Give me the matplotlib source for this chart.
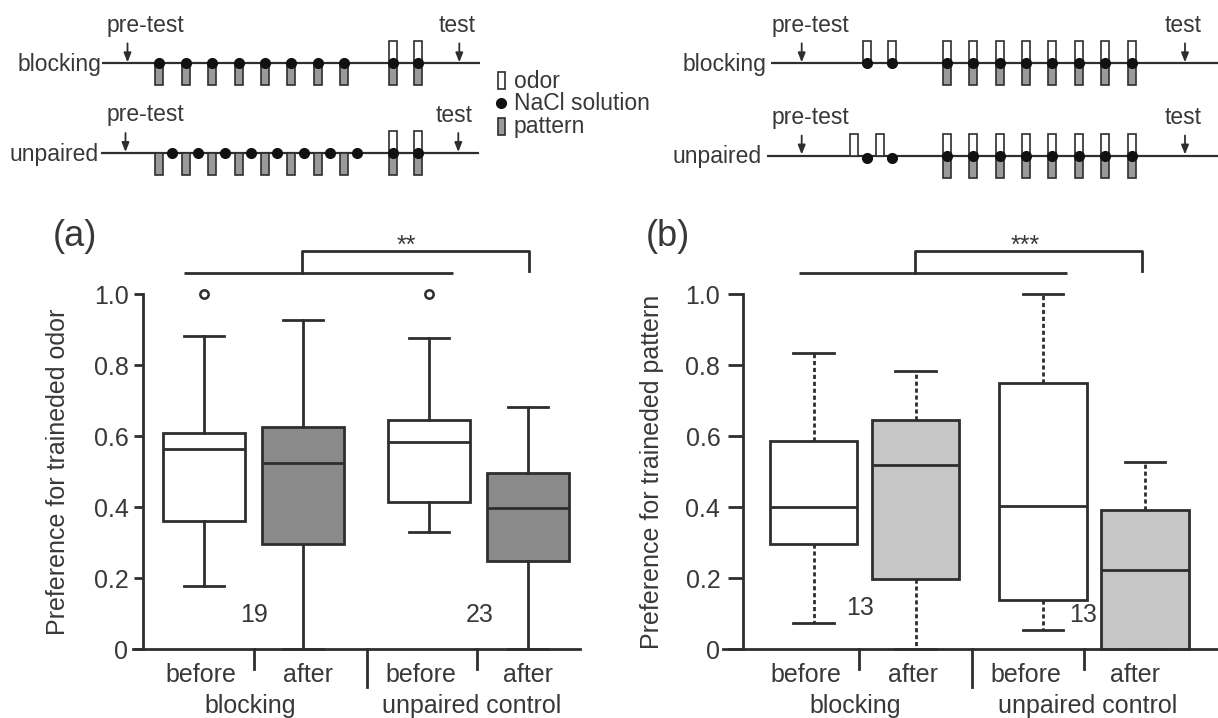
import matplotlib.pyplot as plt
import matplotlib.patches as mpatches

plt.rcParams['font.family'] = ['Liberation Sans', 'DejaVu Sans']

W, H = 1218, 718
TXT = '#383838'
LN = '#2e2e2e'

# box plot values
phases = ['before', 'after', 'before', 'after']
groups = ['blocking', 'unpaired control']
yticks = [0, 0.2, 0.4, 0.6, 0.8, 1.0]
ytick_labels = ['0', '0.2', '0.4', '0.6', '0.8', '1.0']

odor_lo = [0.178, 0.0, 0.331, 0.0]
odor_q1 = [0.361, 0.298, 0.415, 0.250]
odor_med = [0.563, 0.524, 0.583, 0.399]
odor_q3 = [0.608, 0.625, 0.646, 0.496]
odor_hi = [0.883, 0.929, 0.878, 0.683]
odor_fliers = [[1.0], [], [1.0], []]
odor_n = [19, 23]

pat_lo = [0.073, 0.0, 0.054, 0.0]
pat_q1 = [0.297, 0.197, 0.139, 0.0]
pat_med = [0.400, 0.518, 0.404, 0.223]
pat_q3 = [0.588, 0.647, 0.751, 0.392]
pat_hi = [0.835, 0.783, 1.000, 0.529]
pat_fliers = [[], [], [], []]
pat_n = [13, 13]

fig = plt.figure(figsize=(W / 100, H / 100), dpi=100)

# ---------------- protocol schematics (pixel coordinates) ----------------
sch = fig.add_axes([0, 0, 1, 1], zorder=0)
sch.set_xlim(0, W)
sch.set_ylim(H, 0)
sch.axis('off')

SW, SH = 8, 22      # stimulus box size
FS_S = 16.5


def odor(x, y):
    sch.add_patch(mpatches.Rectangle((x - SW / 2, y - SH), SW, SH, fc='white',
                                     ec=LN, lw=1.2, zorder=3))


def pattern(x, y):
    sch.add_patch(mpatches.Rectangle((x - SW / 2, y), SW, SH, fc='#9a9a9a',
                                     ec=LN, lw=1.2, zorder=3))


def nacl(x, y):
    sch.plot([x], [y], 'o', color='#111111', ms=7, zorder=4)


def arrow(x, y):
    sch.annotate('', xy=(x, y - 1), xytext=(x, y - 20),
                 arrowprops=dict(arrowstyle='-|>,head_width=0.22,head_length=0.55',
                                 color=LN, lw=1.3, shrinkA=0, shrinkB=0))


def row(label, lab_x, y, x0, x1, pre_x, test_x, text_x):
    sch.plot([x0, x1], [y, y], color=LN, lw=1.6, zorder=2, solid_capstyle='butt')
    sch.text(lab_x, y + 7.5, label, ha='right', va='baseline', fontsize=FS_S, color=TXT)
    sch.text(text_x[0], y - 31.5, 'pre-test', ha='left', va='baseline', fontsize=FS_S, color=TXT)
    sch.text(text_x[1], y - 31.5, 'test', ha='left', va='baseline', fontsize=FS_S, color=TXT)
    arrow(pre_x, y)
    arrow(test_x, y)


n_train = 8
step = 26.4

# left: pattern conditioning, then odor+pattern compound
row('blocking', 101, 63.3, 102, 480, 127.5, 459.3, (107, 439))
row('unpaired', 99, 153, 101, 479, 125.5, 458.3, (107, 436))
for i in range(n_train):
    x = 159.3 + i * step
    pattern(x, 63.3)
    nacl(x, 63.3)
    pattern(x, 153)
    nacl(x + 12.5, 153)
for x in (393.3, 418.3):
    for y in (63.3, 153):
        odor(x, y)
        pattern(x, y)
        nacl(x, y)

# legend
sch.add_patch(mpatches.Rectangle((497.5, 71.5), 7, 17, fc='white', ec=LN, lw=1.2))
sch.plot([501], [103], 'o', color='#111111', ms=7)
sch.add_patch(mpatches.Rectangle((497.5, 118), 7, 17, fc='#9a9a9a', ec=LN, lw=1.2))
for yy, t in zip((88.3, 110, 133), ('odor', 'NaCl solution', 'pattern')):
    sch.text(514, yy, t, ha='left', va='baseline', fontsize=FS_S, color=TXT)

# right: odor conditioning, then odor+pattern compound
row('blocking', 766, 63.3, 771, W + 2, 801.7, 1185, (771.7, 1165))
row('unpaired', 762, 155.5, 767, W + 2, 801.7, 1185, (771.7, 1165))
for x in (866.7, 892.3):
    odor(x, 63.3)
    nacl(x, 63.3)
    odor(x - 12.8, 155.5)
    nacl(x, 157.5)
for i in range(n_train):
    x = 946.7 + i * step
    for y in (63.3, 155.5):
        odor(x, y)
        pattern(x, y)
        nacl(x, y)


# ---------------- box plots ----------------
FS = 18


def panel(rect, unit, x_first, pos, width, lo, q1, med, q3, hi, fliers, fill, wls,
          yax_x, ticklen, tickpad, seps_small, sep_long, n_x, n_y, n_vals,
          tick_x, group_x, base, bracket, stars_x, stars, letter_x, ylabel, ylabel_x):
    ax = fig.add_axes([rect[0] / W, (H - rect[3]) / H, (rect[1] - rect[0]) / W,
                       (rect[3] - rect[2]) / H], zorder=2)
    ax.set_facecolor('none')
    ax.set_xlim((rect[0] - x_first) / unit + 1, (rect[1] - x_first) / unit + 1)
    ax.set_ylim(0, 1)

    stats = []
    for i in range(4):
        stats.append(dict(whislo=lo[i], q1=q1[i], med=med[i], q3=q3[i],
                          whishi=hi[i], fliers=fliers[i]))
    art = ax.bxp(stats, positions=pos, widths=width, capwidths=0.4,
                 patch_artist=True, showfliers=True,
                 boxprops=dict(lw=2, edgecolor=LN),
                 whiskerprops=dict(lw=2, color=LN, linestyle=wls),
                 capprops=dict(lw=2, color=LN),
                 medianprops=dict(lw=2, color=LN),
                 flierprops=dict(marker='o', mfc='white', mec=LN, ms=6, mew=1.8))
    for i, b in enumerate(art['boxes']):
        b.set_facecolor('white' if i % 2 == 0 else fill)
    for k in art:
        for a in art[k]:
            a.set_clip_on(False)

    for s in ('top', 'right'):
        ax.spines[s].set_visible(False)
    ax.spines['left'].set_position(('data', yax_x))
    ax.spines['left'].set_bounds(0, 1)
    for s in ('left', 'bottom'):
        ax.spines[s].set_linewidth(2)
        ax.spines[s].set_color(LN)
        ax.spines[s].set_zorder(5)
    ax.set_xticks([])
    ax.set_yticks(yticks, ytick_labels)
    ax.tick_params(axis='y', direction='out', length=ticklen, width=2, color=LN,
                   pad=tickpad, labelsize=FS, labelcolor=TXT)

    for x in seps_small:
        ax.plot([x, x], [0, -0.056], color=LN, lw=2, clip_on=False)
    ax.plot([sep_long, sep_long], [0, -0.107], color=LN, lw=2, clip_on=False)

    for x, y, v in zip(n_x, n_y, n_vals):
        ax.text(x, y, str(v), ha='center', va='center', fontsize=FS, color=TXT)
    for x, t in zip(tick_x, phases):
        ax.text(x, -0.092, t, ha='center', va='baseline', fontsize=FS, color=TXT)
    for x, t in zip(group_x, groups):
        ax.text(x, -0.180, t, ha='center', va='baseline', fontsize=FS, color=TXT)

    # significance bracket
    ax.plot(base, [1.061, 1.061], color=LN, lw=2, clip_on=False, solid_capstyle='butt')
    ax.plot([bracket[0], bracket[0], bracket[1], bracket[1]],
            [1.061, 1.122, 1.122, 1.066], color=LN, lw=2, clip_on=False)
    ax.text(stars_x, 1.118, stars, ha='center', va='baseline', fontsize=FS, color=TXT)

    fig.text(letter_x / W, 1 - 237 / H, letter, ha='center', va='center',
             fontsize=26, color=TXT)
    fig.text(ylabel_x / W, 1 - 472 / H, ylabel, rotation=90, ha='center',
             va='center', fontsize=FS, color=TXT)
    return ax


letter = '(a)'
panel((133, 580, 294.3, 649.3), 99, 204, [1, 2, 3.27, 4.27], 0.83,
      odor_lo, odor_q1, odor_med, odor_q3, odor_hi, odor_fliers, '#8a8a8a', '-',
      0.381, 6.7, 3.6, [1.505, 3.76], 2.65, [1.505, 3.78], [0.097, 0.097], odor_n,
      [0.967, 2.05, 3.19, 4.27], [1.465, 3.70],
      [0.796, 3.518], [1.993, 4.286], 3.047, '**', 75,
      'Preference for traineded odor', 58)

letter = '(b)'
panel((723.3, W, 294.3, 649.3), 102, 813.5, [1, 2, 3.25, 4.25], 0.86,
      pat_lo, pat_q1, pat_med, pat_q3, pat_hi, pat_fliers, '#c6c6c6', (0, (1.5, 1)),
      0.312, 10.8, 5.8, [1.45, 3.65], 2.55, [1.452, 3.64], [0.115, 0.097], pat_n,
      [0.926, 1.975, 3.08, 4.15], [1.407, 3.69],
      [0.853, 3.482], [1.995, 4.224], 3.074, '***', 668,
      'Preference for traineded pattern', 652)

fig.savefig('out.png', dpi=100)
